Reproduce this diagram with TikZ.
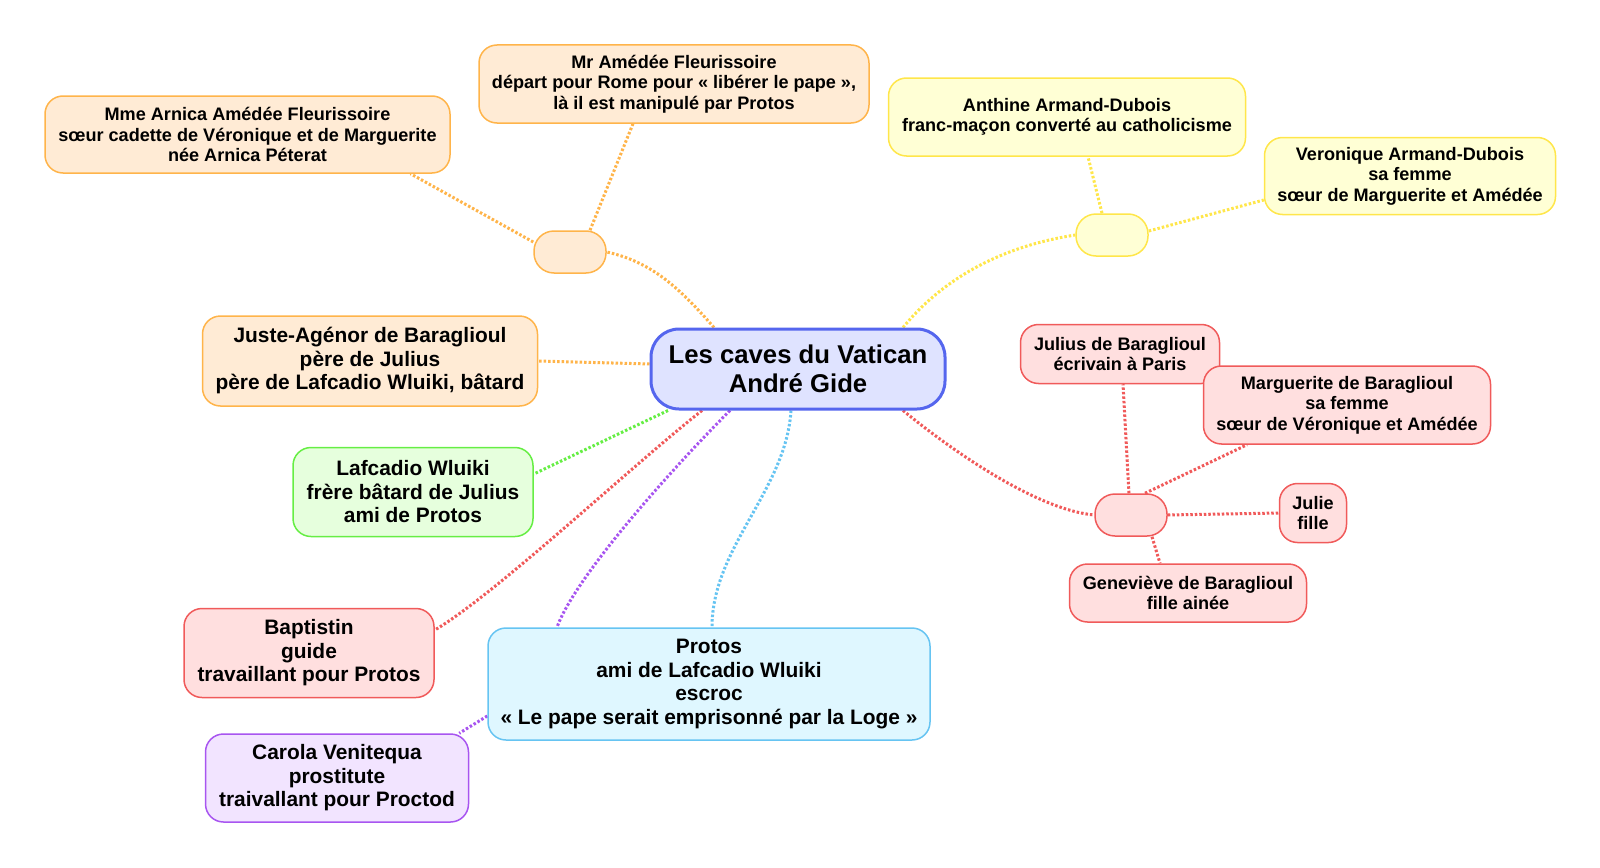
\documentclass[tikz,border=0pt]{standalone}
\usepackage{fontspec}
\setmainfont{Liberation Sans}
\newcommand\fsSmall{\fontsize{18.1}{20.4}\selectfont\bfseries}
\newcommand\fsMid{\fontsize{20.9}{23.5}\selectfont\bfseries}
\newcommand\fsBig{\fontsize{25.7}{29.6}\selectfont\bfseries}
\definecolor{orF}{HTML}{FFEBD5}\definecolor{orL}{HTML}{FFB44A}
\definecolor{yeF}{HTML}{FFFFD5}\definecolor{yeL}{HTML}{FFE64A}
\definecolor{reF}{HTML}{FFDFDF}\definecolor{reL}{HTML}{F05A5A}
\definecolor{grF}{HTML}{E6FFDD}\definecolor{grL}{HTML}{66EE44}
\definecolor{blF}{HTML}{DFE3FF}\definecolor{blL}{HTML}{5566EE}
\definecolor{cyF}{HTML}{DFF7FF}\definecolor{cyL}{HTML}{66C4F2}
\definecolor{puF}{HTML}{F2E4FF}\definecolor{puL}{HTML}{A855F0}
\pgfdeclarelayer{bg}
\pgfsetlayers{bg,main}
\tikzset{
  box/.style={draw, line width=1.5pt, rounded corners=18pt, align=center, inner sep=0pt},
  hub/.style={draw, line width=1.5pt, rounded corners=20pt, minimum width=72pt, minimum height=42pt, inner sep=0pt},
  smallbox/.style={box, font=\fsSmall},
  midbox/.style={box, font=\fsMid},
  conn/.style={line width=3pt, dash pattern=on 2.5pt off 2pt},
  orangebox/.style={fill=orF, draw=orL},
  yellowbox/.style={fill=yeF, draw=yeL},
  redbox/.style={fill=reF, draw=reL},
  greenbox/.style={fill=grF, draw=grL},
  cyanbox/.style={fill=cyF, draw=cyL},
  purplebox/.style={fill=puF, draw=puL},
}
\begin{document}
\begin{tikzpicture}[x=1pt, y=-1pt]
\useasboundingbox (0,0) rectangle (1600,867);
% center
\node[draw=blL, fill=blF, line width=3pt, rounded corners=28pt, align=center, inner sep=0pt,
  minimum width=294pt, minimum height=80pt, font=\fsBig] (C) at (798,369) {Les caves du Vatican\\André Gide};
% orange group
\node[hub, orangebox] (H1) at (570,252) {};
\node[smallbox, orangebox, minimum width=390pt, minimum height=78pt] (Mr) at (674,84)
  {Mr Amédée Fleurissoire\\départ pour Rome pour « libérer le pape »,\\là il est manipulé par Protos};
\node[smallbox, orangebox, minimum width=405pt, minimum height=77pt] (Mme) at (247.5,134.5)
  {Mme Arnica Amédée Fleurissoire\\sœur cadette de Véronique et de Marguerite\\née Arnica Péterat};
\node[midbox, orangebox, minimum width=335pt, minimum height=90pt] (Ju) at (370,361)
  {Juste-Agénor de Baraglioul\\père de Julius\\père de Lafcadio Wluiki, bâtard};
% yellow group
\node[hub, yellowbox] (H2) at (1112,235) {};
\node[smallbox, yellowbox, minimum width=357pt, minimum height=78pt] (An) at (1067,117)
  {Anthine Armand-Dubois\\franc-maçon converté au catholicisme};
\node[smallbox, yellowbox, minimum width=291pt, minimum height=77pt] (Ve) at (1410,176)
  {Veronique Armand-Dubois\\sa femme\\sœur de Marguerite et Amédée};
% green
\node[midbox, greenbox, minimum width=240pt, minimum height=89pt] (La) at (413,492)
  {Lafcadio Wluiki\\frère bâtard de Julius\\ami de Protos};
% red left
\node[midbox, redbox, minimum width=250pt, minimum height=89pt] (Ba) at (309,653)
  {Baptistin\\guide\\travaillant pour Protos};
% protos
\node[midbox, cyanbox, minimum width=442pt, minimum height=112pt] (Pr) at (709,684)
  {Protos\\ami de Lafcadio Wluiki\\escroc\\« Le pape serait emprisonné par la Loge »};
\node[midbox, purplebox, minimum width=263pt, minimum height=88pt] (Ca) at (337,778)
  {Carola Venitequa\\prostitute\\traivallant pour Proctod};
% red right group
\node[hub, redbox] (H3) at (1131,515) {};
\node[smallbox, redbox, minimum width=199pt, minimum height=59pt] (Jl) at (1120,354)
  {Julius de Baraglioul\\écrivain à Paris};
\node[smallbox, redbox, minimum width=287pt, minimum height=78pt] (Ma) at (1347,405)
  {Marguerite de Baraglioul\\sa femme\\sœur de Véronique et Amédée};
\node[smallbox, redbox, minimum width=67pt, minimum height=59pt] (Je) at (1313,513)
  {Julie\\fille};
\node[smallbox, redbox, minimum width=237pt, minimum height=58pt] (Ge) at (1188,593)
  {Geneviève de Baraglioul\\fille ainée};
% connectors
\begin{pgfonlayer}{bg}
\draw[conn, orL] ([xshift=-84pt]C.north) .. controls +(-35,-40) and +(45,10) .. (H1.east);
\draw[conn, orL] ([yshift=10pt]H1.west) -- ([xshift=163pt]Mme.south);
\draw[conn, orL] ([xshift=20pt]H1.north) -- ([xshift=-41pt]Mr.south);
\draw[conn, orL] ([yshift=5pt]C.west) -- (Ju.east);
\draw[conn, yeL] ([xshift=105pt]C.north) .. controls +(45,-55) and +(-65,10) .. (H2.west);
\draw[conn, yeL] ([xshift=-10pt]H2.north) -- ([xshift=21pt]An.south);
\draw[conn, yeL] ([yshift=4pt]H2.east) -- ([yshift=-24pt]Ve.west);
\draw[conn, grL] ([xshift=-130pt]C.south) -- ([yshift=18pt]La.east);
\draw[conn, reL] ([xshift=-96pt]C.south) .. controls +(-70,55) and +(60,-35) .. ([yshift=23pt]Ba.east);
\draw[conn, puL] ([xshift=-68pt]C.south) .. controls +(-45,45) and +(20,-55) .. ([xshift=-152pt]Pr.north);
\draw[conn, cyL] ([xshift=-7pt]C.south) .. controls +(-5,80) and +(0,-80) .. ([xshift=3pt]Pr.north);
\draw[conn, puL] ([yshift=-32pt]Pr.west) -- ([xshift=-10pt]Ca.north east);
\draw[conn, reL] ([xshift=105pt]C.south) .. controls +(55,45) and +(-55,-5) .. (H3.west);
\draw[conn, reL] ([xshift=-2pt]H3.north) -- ([xshift=3pt]Jl.south);
\draw[conn, reL] ([xshift=14pt]H3.north) -- ([xshift=-100pt]Ma.south);
\draw[conn, reL] (H3.east) -- (Je.west);
\draw[conn, reL] ([xshift=21pt]H3.south) -- ([xshift=-28pt]Ge.north);
\end{pgfonlayer}
\end{tikzpicture}
\end{document}
